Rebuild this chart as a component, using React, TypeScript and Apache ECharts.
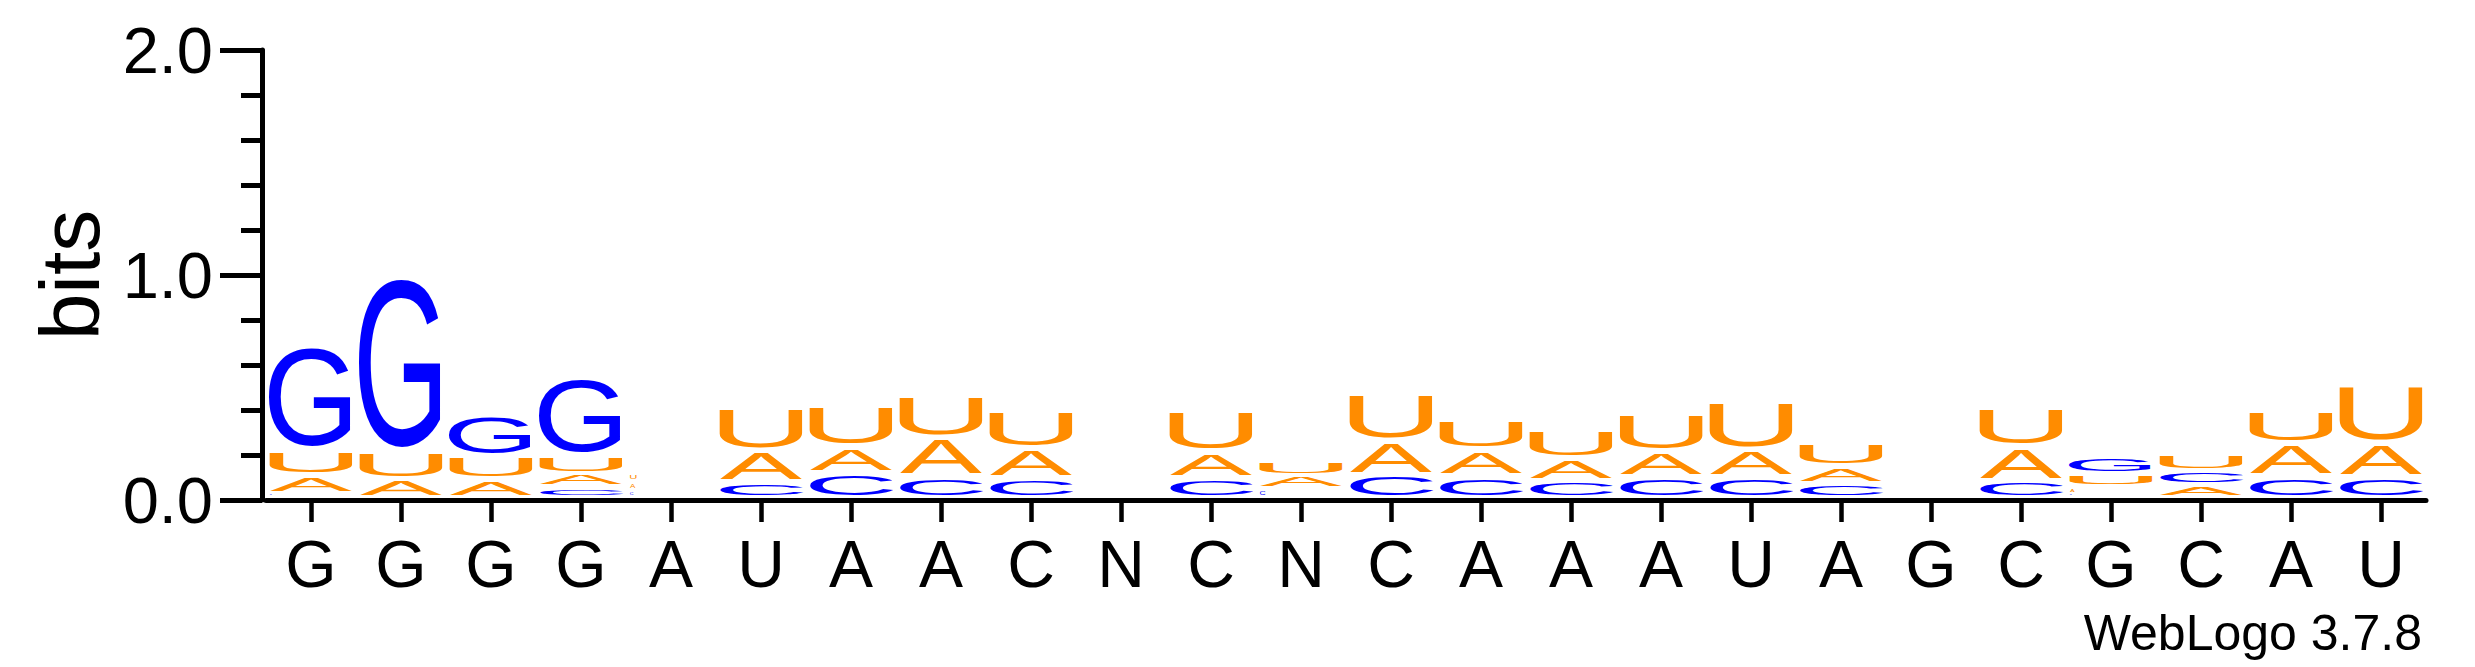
import React, { useEffect, useRef } from 'react';
import * as echarts from 'echarts';

// Sequence positions (x-axis tick labels)
const positions = ['G','G','G','G','A','U','A','A','C','N','C','N','C','A','A','A','U','A','G','C','G','C','A','U'];

// Information content (bits) per letter per position
const bitsA = [0.083,0.084,0.081,0.060,0.038,0.139,0.119,0.173,0.133,0,0.119,0.061,0.151,0.118,0.098,0.114,0.121,0.077,0,0.153,0.036,0.058,0.146,0.150];
const bitsC = [0.018,0,0,0.048,0.032,0.071,0.111,0.096,0.089,0,0.089,0.038,0.104,0.096,0.077,0.093,0.093,0.064,0,0.074,0.012,0.062,0.096,0.096];
const bitsG = [0.474,0.797,0.185,0.358,0,0,0,0,0,0,0,0,0,0,0,0,0,0,0,0,0.078,0,0,0];
const bitsU = [0.114,0.123,0.104,0.082,0.041,0.193,0.185,0.189,0.173,0,0.185,0.067,0.212,0.133,0.132,0.170,0.222,0.104,0,0.176,0.058,0.078,0.149,0.264];

const yMin = 0;
const yMax = 2;
const yInterval = 1;

const letterColors: Record<string, string> = { A: '#FF8C00', U: '#FF8C00', C: '#0000FF', G: '#0000FF' };
const table: Record<string, number[]> = { A: bitsA, C: bitsC, G: bitsG, U: bitsU };

// approximate glyph metrics (em) for Liberation Sans
const METRICS: Record<string, { w: number; h: number; cy: number }> = {
  A: { w: 0.668, h: 0.716, cy: 0.358 },
  C: { w: 0.625, h: 0.740, cy: 0.358 },
  G: { w: 0.661, h: 0.740, cy: 0.358 },
  U: { w: 0.565, h: 0.728, cy: 0.352 },
};
const FONT = "'Liberation Sans', Arial, Helvetica, sans-serif";
const FS = 100;
const GAP = 5;
const SIDE = 4;
const CENTRAL = 0.3465;

export default function App() {
  const ref = useRef<HTMLDivElement>(null);
  useEffect(() => {
    document.body.style.margin = '0';
    if (!ref.current) return;
    const chart = echarts.init(ref.current, undefined, { renderer: 'svg' });
    const letters = ['A', 'C', 'G', 'U'];
    const data = positions.map((_, i) => [i, letters.reduce((s, l) => s + table[l][i], 0)]);

    const renderItem = (params: any, api: any) => {
      const i = api.value(0);
      const cx = api.coord([i, 0])[0];
      const colW = api.size([1, 0])[0];
      const stack = letters
        .map((l) => ({ l, v: table[l][i] }))
        .filter((d) => d.v > 0)
        .sort((a, b) => a.v - b.v);
      let cum = 0;
      const children: any[] = [];
      for (const d of stack) {
        const yb = api.coord([i, cum])[1];
        const yt = api.coord([i, cum + d.v])[1];
        cum += d.v;
        const gh = yb - yt - GAP;
        let w: number, h: number, x: number;
        if (gh >= 5) {
          h = gh;
          w = colW - 2 * SIDE;
          x = cx;
        } else {
          h = Math.max(gh, 1.2);
          w = h * 1.5;
          x = cx - colW / 2 + SIDE + w / 2;
        }
        const m = METRICS[d.l];
        const sx = w / (m.w * FS);
        const sy = h / (m.h * FS);
        const bottom = yb - GAP;
        const gc = bottom - h / 2;
        const y = gc + (m.cy - CENTRAL) * FS * sy;
        children.push({
          type: 'text',
          x,
          y,
          scaleX: sx,
          scaleY: sy,
          silent: true,
          style: {
            text: d.l,
            fontSize: FS,
            fontFamily: FONT,
            fill: letterColors[d.l],
            align: 'center',
            verticalAlign: 'middle',
            textAlign: 'center',
            textVerticalAlign: 'middle',
          },
        });
      }
      return { type: 'group', children };
    };

    chart.setOption({
      animation: false,
      backgroundColor: '#ffffff',
      grid: { left: 266, right: 49, top: 50, bottom: 167, containLabel: false, outerBoundsMode: 'none' },
      xAxis: {
        type: 'category',
        data: positions,
        axisLine: { show: true, lineStyle: { color: '#000', width: 5 } },
        axisTick: { show: true, alignWithLabel: true, length: 22, lineStyle: { color: '#000', width: 4.5 } },
        axisLabel: { interval: 0, fontSize: 66, color: '#000', fontFamily: FONT, margin: 31 },
        splitLine: { show: false },
      },
      yAxis: {
        type: 'value',
        min: yMin,
        max: yMax,
        interval: yInterval,
        offset: 4,
        name: 'bits',
        nameLocation: 'middle',
        nameRotate: 90,
        nameGap: 149,
        nameTextStyle: { fontSize: 84, color: '#000', fontFamily: FONT },
        axisLine: { show: true, lineStyle: { color: '#000', width: 5 } },
        axisTick: { show: true, length: 42, lineStyle: { color: '#000', width: 5 } },
        minorTick: { show: true, splitNumber: 5, length: 21, lineStyle: { color: '#000', width: 5 } },
        axisLabel: {
          fontSize: 65,
          color: '#000',
          fontFamily: FONT,
          margin: 49,
          formatter: (v: number) => v.toFixed(1),
        },
        splitLine: { show: false },
        minorSplitLine: { show: false },
      },
      graphic: [
        {
          type: 'text',
          x: 2422,
          y: 633,
          silent: true,
          style: {
            text: 'WebLogo 3.7.8',
            fontSize: 50,
            fontFamily: FONT,
            fill: '#000',
            align: 'right',
            verticalAlign: 'middle',
            textAlign: 'right',
            textVerticalAlign: 'middle',
          },
        },
      ],
      series: [
        {
          type: 'custom',
          renderItem,
          data,
          encode: { x: 0, y: 1 },
          silent: true,
          clip: false,
        },
      ],
    });
    return () => chart.dispose();
  }, []);
  return <div ref={ref} style={{ width: 2475, height: 667 }} />;
}
